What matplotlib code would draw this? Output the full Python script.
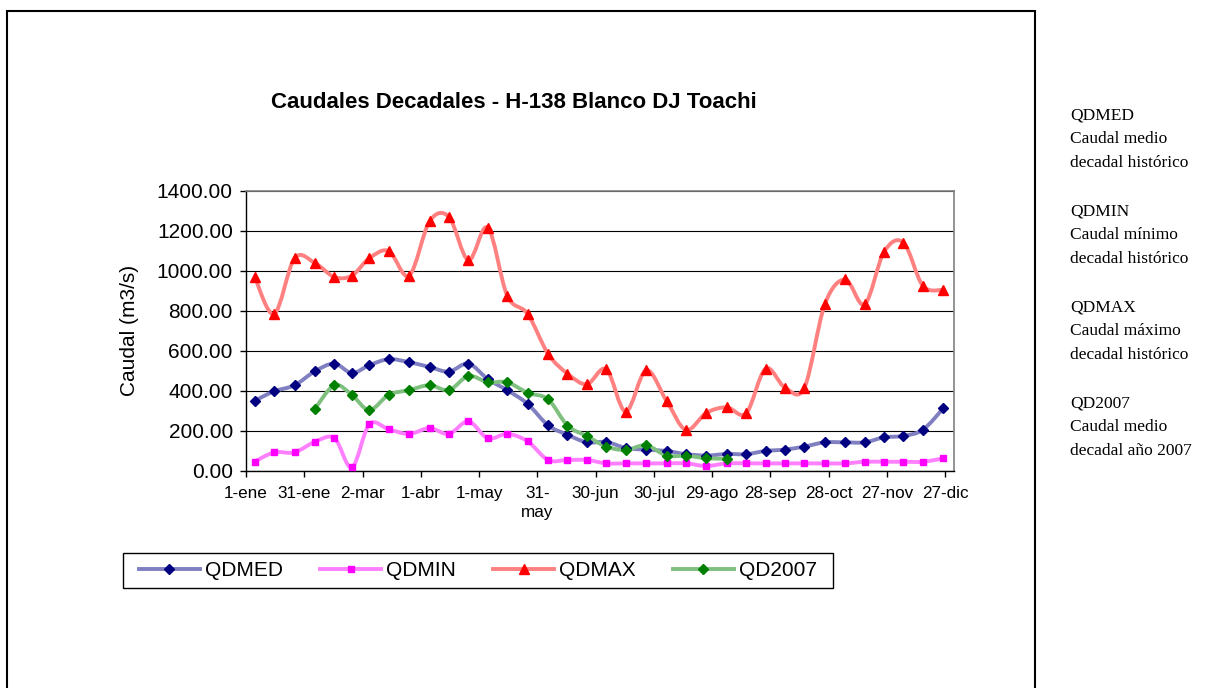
import numpy as np
import matplotlib
matplotlib.use('Agg')
import matplotlib.pyplot as plt
from matplotlib.path import Path
from matplotlib.patches import PathPatch, Rectangle
from matplotlib.lines import Line2D

# ---- data ----
MONTH_DAYS = [31, 28, 31, 30, 31, 30, 31, 31, 30, 31, 30, 31]

qdmed = [351, 398, 428, 498, 536, 489, 528, 558, 543, 519, 496, 536,
         458, 403, 335, 228, 181, 143, 145, 115, 106, 100, 84, 77,
         85, 84, 100, 107, 122, 143, 143, 143, 168, 175, 206, 313]
qdmin = [47, 93, 93, 146, 164, 18, 233, 208, 185, 214, 185, 248,
         163, 185, 148, 55, 55, 55, 38, 38, 38, 38, 38, 25,
         38, 38, 38, 38, 38, 38, 38, 46, 46, 46, 46, 63]
qdmax = [968, 783, 1062, 1038, 968, 975, 1062, 1098, 975, 1246, 1268, 1052,
         1215, 875, 784, 585, 486, 433, 508, 296, 503, 350, 205, 290,
         318, 288, 511, 416, 416, 832, 956, 832, 1094, 1140, 924, 904]
nan = np.nan
qd2007 = [nan, nan, nan, 311, 428, 380, 304, 380, 404, 428, 404, 474,
          443, 443, 390, 358, 227, 174, 122, 105, 128, 77, 76, 64,
          61, nan, nan, nan, nan, nan, nan, nan, nan, nan, nan, nan]

tick_days = [1, 31, 61, 91, 121, 151, 181, 211, 241, 271, 301, 331, 361]
tick_labels = ['1-ene', '31-ene', '2-mar', '1-abr', '1-may', '31-\nmay',
               '30-jun', '30-jul', '29-ago', '28-sep', '28-oct', '27-nov',
               '27-dic']

notes = ['QDMED', 'Caudal medio', 'decadal histórico', '',
         'QDMIN', 'Caudal mínimo', 'decadal histórico', '',
         'QDMAX', 'Caudal máximo', 'decadal histórico', '',
         'QD2007', 'Caudal medio', 'decadal año 2007']


def decade_days():
    """Day-of-year at the middle of each 10-day period."""
    out = []
    start = 1
    for length in MONTH_DAYS:
        out += [start + 4.5, start + 14.5, start + 20 + (length - 21) / 2]
        start += length
    return np.array(out)


def smooth_path(x, y):
    # Excel-like smoothed line: cubic Bezier segments, Catmull-Rom tangents
    n = len(x)
    verts = [(x[0], y[0])]
    codes = [Path.MOVETO]
    for i in range(n - 1):
        xp, yp = (x[i - 1], y[i - 1]) if i > 0 else (x[i], y[i])
        xn, yn = (x[i + 2], y[i + 2]) if i + 2 < n else (x[i + 1], y[i + 1])
        c1 = (x[i] + (x[i + 1] - xp) / 6, y[i] + (y[i + 1] - yp) / 6)
        c2 = (x[i + 1] - (xn - x[i]) / 6, y[i + 1] - (yn - y[i]) / 6)
        verts += [c1, c2, (x[i + 1], y[i + 1])]
        codes += [Path.CURVE4] * 3
    return Path(verts, codes)


SANS = 'Liberation Sans'
SERIF = 'Liberation Serif'

series = [
    ('QDMED', qdmed, '#7F7FC2', '#000080', 'D', 5.0),
    ('QDMIN', qdmin, '#FF80FF', '#FF00FF', 's', 5.0),
    ('QDMAX', qdmax, '#FF8080', '#FF0000', '^', 6.5),
    ('QD2007', qd2007, '#7FBF7F', '#008000', 'D', 5.0),
]

x = decade_days()

fig = plt.figure(figsize=(12.22, 6.88), dpi=100)
ax = fig.add_axes([246 / 1222, 1 - 471 / 688, 708 / 1222, 280.5 / 688])

handles = []
for name, vals, lcol, mcol, mk, ms in series:
    y = np.array(vals, dtype=float)
    ok = ~np.isnan(y)
    xs, ys = x[ok], y[ok]
    ax.add_patch(PathPatch(smooth_path(xs, ys), facecolor='none',
                           edgecolor=lcol, lw=2.8, capstyle='round',
                           joinstyle='round', zorder=3))
    ax.plot(xs, ys, linestyle='none', marker=mk, ms=ms, color=mcol,
            markeredgecolor=mcol, zorder=4)
    handles.append(Line2D([], [], color=lcol, lw=2.8, marker=mk, ms=ms,
                          markerfacecolor=mcol, markeredgecolor=mcol))

ax.set_xlim(1, 365.5)
ax.set_ylim(0, 1400)
ax.set_yticks(np.arange(0, 1401, 200))
ax.set_yticklabels([f'{v:.2f}' for v in np.arange(0, 1401, 200)],
                   fontsize=15, family=SANS)
ax.set_xticks(tick_days)
ax.set_xticklabels(tick_labels, fontsize=12.3, family=SANS, linespacing=1.3)
ax.tick_params(axis='y', direction='out', length=4, width=1, pad=5.5)
ax.tick_params(axis='x', direction='out', length=4, width=1, pad=7)
ax.yaxis.grid(True, color='black', lw=0.8)
ax.set_axisbelow(True)
for side in ('left', 'bottom'):
    ax.spines[side].set_color('black')
    ax.spines[side].set_linewidth(1.0)
for side in ('top', 'right'):
    ax.spines[side].set_color('#808080')
    ax.spines[side].set_linewidth(1.2)
ax.set_ylabel('Caudal (m3/s)', fontsize=15, family=SANS)
ax.yaxis.set_label_coords(-0.151, 0.5)

fig.text(514 / 1222, 1 - 103 / 688, 'Caudales Decadales - H-138 Blanco DJ Toachi',
         ha='center', va='center', fontsize=16, fontweight='bold', family=SANS)

# legend with its own square frame
fig.legend(handles, [s[0] for s in series], loc='center', ncol=4,
           bbox_to_anchor=(478 / 1222, 1 - 570.5 / 688), frameon=False,
           prop={'family': SANS, 'size': 15}, handlelength=2.9,
           handletextpad=0.25, columnspacing=1.8)
fig.add_artist(Rectangle((122.6 / 1222, 1 - 588 / 688), 710.4 / 1222, 35 / 688,
                         transform=fig.transFigure, fill=False,
                         edgecolor='black', lw=1.0))

# outer chart border (bottom edge runs off the picture)
fig.add_artist(Rectangle((7.5 / 1222, -0.1), 1027.5 / 1222, 1.1 - 11 / 688,
                         transform=fig.transFigure, fill=False,
                         edgecolor='black', lw=1.5))

for i, line in enumerate(notes):
    if line:
        fig.text(1070 / 1222, 1 - (115 + 24 * i) / 688, line, ha='left',
                 va='center', fontsize=12.5, family=SERIF)

fig.savefig('out.png', dpi=100)
